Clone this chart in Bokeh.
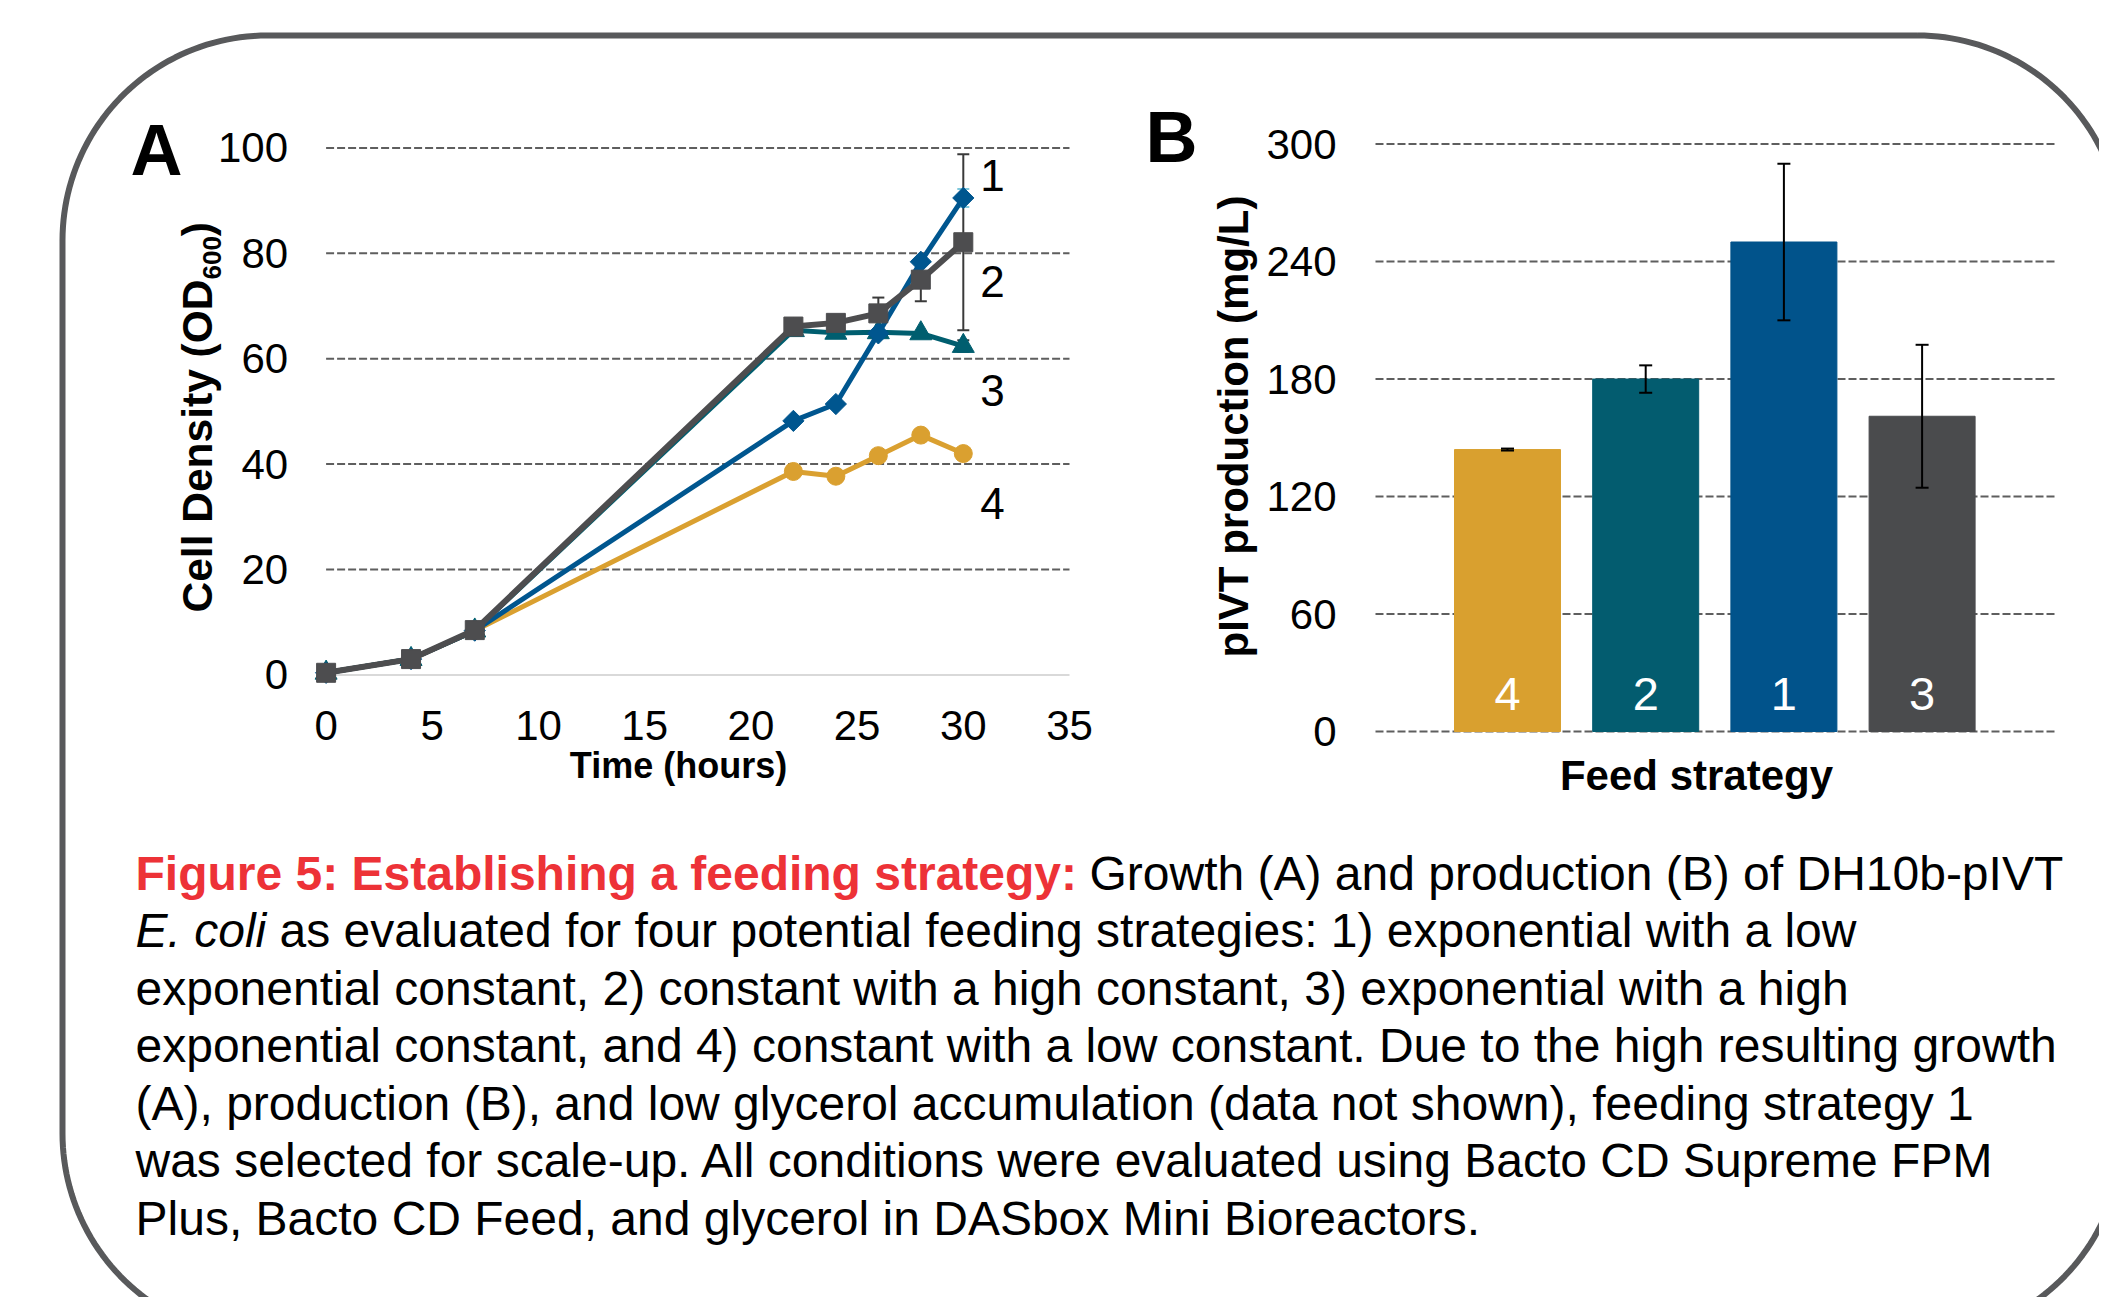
import numpy as np
from bokeh.plotting import figure
from bokeh.models import (Range1d, FixedTicker, LinearAxis, Whisker, TeeHead,
                          ColumnDataSource)
from bokeh.embed import file_html
from bokeh.resources import INLINE
from bokeh.core.properties import value

# ---------------- data: panel A (growth) ----------------
time_hours = [0, 4, 7, 22, 24, 26, 28, 30]
od_strategy1 = [0.4, 3.0, 8.4, 48.2, 51.4, 64.8, 78.4, 90.5]
od_strategy2 = [0.4, 3.0, 8.5, 66.1, 66.8, 68.6, 75.0, 82.1]
od_strategy3 = [0.4, 3.0, 8.4, 65.4, 64.9, 65.0, 64.8, 62.4]
od_strategy4 = [0.4, 3.0, 8.4, 38.6, 37.7, 41.6, 45.5, 42.0]
od_err1 = [0, 0, 0, 0, 0, 0, 0, 1.7]
od_err2 = [0, 0, 0, 0, 0, 3.0, 4.1, 16.7]
od_err3 = [0, 0, 0, 0, 0, 0, 0, 1.1]
series_names = ["1", "2", "3", "4"]
time_ticks = [0, 5, 10, 15, 20, 25, 30, 35]
od_ticks = [0, 20, 40, 60, 80, 100]

# ---------------- data: panel B (production) ----------------
feed_strategies = ["4", "2", "1", "3"]
pivt_production = [144, 180, 250, 161]
pivt_error = [0.5, 7.0, 40.0, 36.5]
pivt_ticks = [0, 60, 120, 180, 240, 300]

# ---------------- caption ----------------
caption_title = "Figure 5: Establishing a feeding strategy:"
caption_line1_rest = "Growth (A) and production (B) of DH10b-pIVT"
caption_italic = "E. coli"
caption_line2_rest = "as evaluated for four potential feeding strategies: 1) exponential with a low"
caption_lines = [
    "exponential constant, 2) constant with a high constant, 3) exponential with a high",
    "exponential constant, and 4) constant with a low constant. Due to the high resulting growth",
    "(A), production (B), and low glycerol accumulation (data not shown), feeding strategy 1",
    "was selected for scale-up. All conditions were evaluated using Bacto CD Supreme FPM",
    "Plus, Bacto CD Feed, and glycerol in DASbox Mini Bioreactors.",
]

# ---------------- styles / layout ----------------
FONT = "Liberation Sans"
C1, C2, C3, C4 = "#00568F", "#4D4D4F", "#005E6F", "#DAA030"
BAR_COLORS = ["#D9A02F", "#035C6F", "#01538B", "#4A4B4D"]
GRID_COLOR = "#5E5E5E"
BORDER_COLOR = "#58595B"
MID = 0.35  # centre of text box above the alphabetic baseline, in em

W, H = 2099, 1297  # canvas = page (the page has no body margin)


def page_range(v0, p0, v1, p1, lo, hi):
    """Range whose values v0, v1 fall on page pixels p0, p1; spanning pixels lo..hi."""
    k = (v1 - v0) / (p1 - p0)
    return Range1d(v0 + (lo - p0) * k, v0 + (hi - p0) * k)


p = figure(width=W, height=H, x_range=Range1d(0, W), y_range=Range1d(H, 0),
           output_backend="svg", toolbar_location=None,
           x_axis_location=None, y_axis_location=None, min_border=0)
p.outline_line_color = None
p.xgrid.visible = False
p.ygrid.visible = False

# panel A ranges: time 0 -> x 325.6, 35 -> x 1069 ; OD 0 -> y 674.4, 100 -> y 147.4
p.extra_x_ranges["ax"] = page_range(0, 325.6, 35, 1069.0, 0, W)
p.extra_y_ranges["ay"] = page_range(0, 674.4, 100, 147.4, H, 0)
# panel B ranges: bar index 1 -> x 1507, step 138.2 ; 0 -> y 731, 300 -> y 143.6
p.extra_x_ranges["bx"] = page_range(1, 1507.0, 2, 1645.2, 0, W)
p.extra_y_ranges["by"] = page_range(0, 731.0, 300, 143.6, H, 0)
B_LEFT = 1 + (1375 - 1507.0) / 138.2
B_RIGHT = 1 + (2055 - 1507.0) / 138.2
A_ = dict(x_range_name="ax", y_range_name="ay")
B_ = dict(x_range_name="bx", y_range_name="by")


def style_axis(ax, standoff):
    ax.axis_line_color = None
    ax.major_tick_line_color = None
    ax.minor_tick_line_color = None
    ax.major_tick_out = 0
    ax.major_tick_in = 0
    ax.major_label_standoff = standoff
    ax.major_label_text_font = FONT
    ax.major_label_text_font_size = "42px"
    ax.major_label_text_color = "black"


def text(x, y, t, size, bold=False, italic=False, align="left", angle=0.0,
         color="black", **kw):
    style = "bold" if bold else ("italic" if italic else "normal")
    p.text(x=x, y=y, text=t, text_font=value(FONT), text_font_size=f"{size}px",
           text_font_style=style, text_align=align, text_baseline="middle",
           angle=angle, text_color=color, **kw)


# ================= Panel A =================
ya_axis = LinearAxis(fixed_location=0, ticker=FixedTicker(ticks=od_ticks), **A_)
style_axis(ya_axis, 38)
p.add_layout(ya_axis, "left")
xa_axis = LinearAxis(fixed_location=0, ticker=FixedTicker(ticks=time_ticks), **A_)
style_axis(xa_axis, 36)
p.add_layout(xa_axis, "below")

grid_a = od_ticks[1:]
p.segment(x0=[time_ticks[0]] * len(grid_a), x1=[time_ticks[-1]] * len(grid_a),
          y0=grid_a, y1=grid_a, line_color=GRID_COLOR, line_width=2,
          line_dash="8 3", **A_)
p.segment(x0=[time_ticks[0]], x1=[time_ticks[-1]], y0=[od_ticks[0]], y1=[od_ticks[0]],
          line_color="#D9D9D9", line_width=2, **A_)


def whisker_for(xs, ys, es, color, head, rn, level):
    pts = [(x, y - e, y + e) for x, y, e in zip(xs, ys, es) if e > 0]
    src = ColumnDataSource(dict(x=[q[0] for q in pts], lower=[q[1] for q in pts],
                                upper=[q[2] for q in pts]))
    return Whisker(source=src, base="x", lower="lower", upper="upper",
                   line_color=color, line_width=2, level=level,
                   upper_head=TeeHead(size=head, line_color=color, line_width=2),
                   lower_head=TeeHead(size=head, line_color=color, line_width=2), **rn)


p.add_layout(whisker_for(time_hours, od_strategy1, od_err1, "#7FC8DC", 12, A_, "underlay"))
p.add_layout(whisker_for(time_hours, od_strategy3, od_err3, "#2B3A40", 12, A_, "underlay"))
p.add_layout(whisker_for(time_hours, od_strategy2, od_err2, "#3A3A3A", 12, A_, "underlay"))

p.line(time_hours, od_strategy4, line_color=C4, line_width=5, **A_)
p.scatter(time_hours, od_strategy4, marker="circle", size=18, color=C4, **A_)
p.line(time_hours, od_strategy3, line_color=C3, line_width=5, **A_)
p.scatter(time_hours, od_strategy3, marker="triangle", size=22, color=C3, **A_)
p.line(time_hours, od_strategy1, line_color=C1, line_width=5, **A_)
p.scatter(time_hours, od_strategy1, marker="square", angle=np.pi / 4, size=15, color=C1, **A_)
p.line(time_hours, od_strategy2, line_color=C2, line_width=6, **A_)
p.scatter(time_hours, od_strategy2, marker="square", size=19, color=C2, **A_)

# series numbers at the line ends (baselines in OD units)
series_label_x = 30.8
series_label_base = [91.9, 71.7, 51.1, 29.6]
text([series_label_x] * 4, series_label_base, series_names, 44,
     y_offset=-MID * 44, **A_)

# ================= Panel B =================
yb_axis = LinearAxis(fixed_location=B_LEFT, ticker=FixedTicker(ticks=pivt_ticks), **B_)
style_axis(yb_axis, 39)
p.add_layout(yb_axis, "left")
p.segment(x0=[B_LEFT] * len(pivt_ticks), x1=[B_RIGHT] * len(pivt_ticks),
          y0=pivt_ticks, y1=pivt_ticks, line_color=GRID_COLOR, line_width=2,
          line_dash="8 3", **B_)

positions = [i + 1 for i in range(len(feed_strategies))]
p.vbar(x=positions, top=pivt_production, width=0.767, color=BAR_COLORS, **B_)
src_b = ColumnDataSource(dict(x=positions,
                              lower=[v - e for v, e in zip(pivt_production, pivt_error)],
                              upper=[v + e for v, e in zip(pivt_production, pivt_error)]))
p.add_layout(Whisker(source=src_b, base="x", lower="lower", upper="upper",
                     line_color="black", line_width=2, level="annotation",
                     upper_head=TeeHead(size=13, line_color="black", line_width=2),
                     lower_head=TeeHead(size=13, line_color="black", line_width=2), **B_))
text(positions, [0] * len(positions), feed_strategies, 47, align="center",
     color="white", y_offset=-21 - MID * 47, **B_)

# ================= titles (page pixels) =================
text([130], [175 - MID * 72], ["A"], 72, bold=True)
text([1145], [162 - MID * 72], ["B"], 72, bold=True)
text([678], [778 - MID * 36], ["Time (hours)"], 36, bold=True, align="center")
text([1696], [790 - MID * 42], ["Feed strategy"], 42, bold=True, align="center")

# rotated y titles; baseline x given, text reads upward from y start
T_SIZE, S_SIZE = 42.5, 26
yt_base, yt_start = 212, 612
main_w = 7.835 * T_SIZE
sub_w = 1.668 * S_SIZE
text([yt_base - MID * T_SIZE], [yt_start], ["Cell Density (OD"], T_SIZE, bold=True,
     angle=np.pi / 2)
text([yt_base + 9 - MID * S_SIZE], [yt_start - main_w], ["600"], S_SIZE, bold=True,
     angle=np.pi / 2)
text([yt_base - MID * T_SIZE], [yt_start - main_w - sub_w], [")"], T_SIZE, bold=True,
     angle=np.pi / 2)
text([1248 - MID * 42], [657], ["pIVT production (mg/L)"], 42, bold=True, angle=np.pi / 2)

# ================= caption =================
CAP = 48
CAP_X = 135
base0, lead = 889.5, 57.5
cy = lambda i: base0 + lead * i - MID * CAP
text([CAP_X], [cy(0)], [caption_title], CAP, bold=True, color="#ED3237")
text([1089], [cy(0)], [caption_line1_rest], CAP)
text([CAP_X], [cy(1)], [caption_italic], CAP, italic=True)
text([279], [cy(1)], [caption_line2_rest], CAP)
text([CAP_X] * len(caption_lines), [cy(i + 2) for i in range(len(caption_lines))],
     caption_lines, CAP)


# ================= rounded frame =================
def rounded_rect(l, t, r, b, rad, n=48):
    xs, ys = [], []
    corners = [(r - rad, t + rad, -90, 0), (r - rad, b - rad, 0, 90),
               (l + rad, b - rad, 90, 180), (l + rad, t + rad, 180, 270)]
    for cx, cyy, a0, a1 in corners:
        for a in np.linspace(np.radians(a0), np.radians(a1), n):
            xs.append(float(cx + rad * np.cos(a)))
            ys.append(float(cyy + rad * np.sin(a)))
    return xs + xs[:1], ys + ys[:1]


BX, BY = rounded_rect(62, 35, 2122, 1338, 205)
p.line(BX, BY, line_color=BORDER_COLOR, line_width=6)

open("out.html", "w").write(file_html(p, INLINE))
